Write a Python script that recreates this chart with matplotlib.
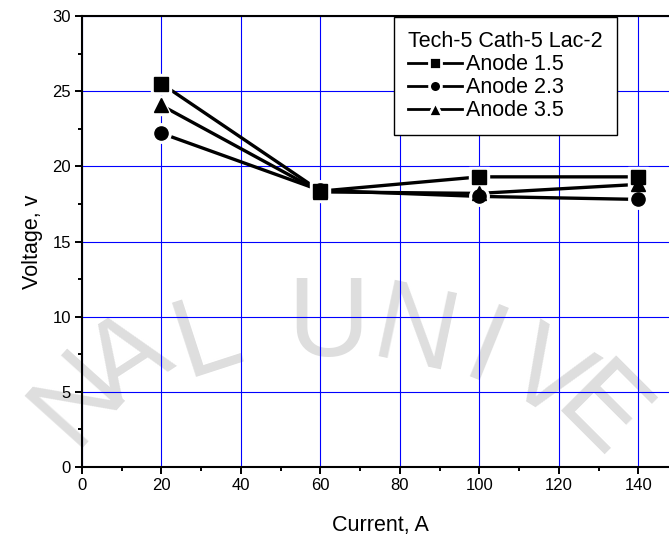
import matplotlib.pyplot as plt
from matplotlib.lines import Line2D
from matplotlib.ticker import MultipleLocator

# data
current = [20, 60, 100, 140]
anode_15 = [25.5, 18.35, 19.3, 19.3]
anode_23 = [22.2, 18.4, 18.0, 17.8]
anode_35 = [24.05, 18.3, 18.2, 18.8]
labels = ['Anode 1.5', 'Anode 2.3', 'Anode 3.5']
legend_title = 'Tech-5 Cath-5 Lac-2'

plt.rcParams['font.family'] = ['Liberation Sans', 'DejaVu Sans']

fig = plt.figure(figsize=(6.69, 5.39), dpi=100)
# right edge of the axes sits just past the canvas, like the cropped original
ax = fig.add_axes([82 / 669, 72 / 539, 596 / 669, 451 / 539])
ax.set_facecolor('none')

# faint watermark behind the plot
wm = [('N', 80, 398, 48), ('A', 130, 362, 33), ('L', 208, 340, 18),
      ('U', 328, 327, 0), ('N', 415, 336, -12), ('I', 484, 355, -22), ('V', 545, 380, -32),
      ('E', 598, 416, -45)]
for ch, px, py, rot in wm:
    fig.text(px / 669, 1 - py / 539, ch, fontsize=82, color='#dedede',
             rotation=rot, ha='center', va='center', zorder=-5)

markers = ['s', 'o', '^']
handles = []
for ys, m, lab in zip([anode_15, anode_23, anode_35], markers, labels):
    ax.plot(current, ys, color='black', lw=2.4, zorder=2)
    # white halo so the line stops short of each marker
    ax.plot(current, ys, ls='none', marker=m, ms=14, color='white', zorder=3)
    ax.plot(current, ys, ls='none', marker=m, ms=9.5 if m != '^' else 10.5,
            color='black', zorder=4)
    handles.append(Line2D([], [], color='black', lw=2.0, marker=m,
                          ms=8.5 if m != '^' else 10,
                          markerfacecolor='black', markeredgecolor='white',
                          markeredgewidth=2.0, label=lab))

ax.set_xlim(0, 150)
ax.set_ylim(0, 30)
ax.set_xticks([0, 20, 40, 60, 80, 100, 120, 140])
ax.xaxis.set_minor_locator(MultipleLocator(10))
ax.yaxis.set_major_locator(MultipleLocator(5))
ax.yaxis.set_minor_locator(MultipleLocator(2.5))

ax.grid(True, which='major', color='blue', lw=0.8, zorder=1)
ax.set_axisbelow(True)
ax.tick_params(which='major', direction='out', length=5, width=1.4, labelsize=12, pad=3)
ax.tick_params(which='minor', direction='out', length=3, width=1.4)
for side in ['left', 'bottom', 'top']:
    ax.spines[side].set_linewidth(1.5)
ax.spines['right'].set_visible(False)

ax.set_xlabel('Current, A', fontsize=15.5, labelpad=16)
ax.set_ylabel('Voltage, v', fontsize=15.5, labelpad=7)

leg = fig.legend(handles=handles, loc='upper left', bbox_to_anchor=(394 / 669, 1 - 17 / 539),
                 borderaxespad=0, title=legend_title, fontsize=15.5, title_fontsize=15.5,
                 frameon=True, fancybox=False, handlelength=2.5, handletextpad=0.2,
                 borderpad=0.65, labelspacing=0.1, framealpha=1)
leg.get_frame().set_edgecolor('black')
leg.get_frame().set_linewidth(1.0)
leg._legend_box.align = 'left'

fig.savefig('out.png', dpi=100)
